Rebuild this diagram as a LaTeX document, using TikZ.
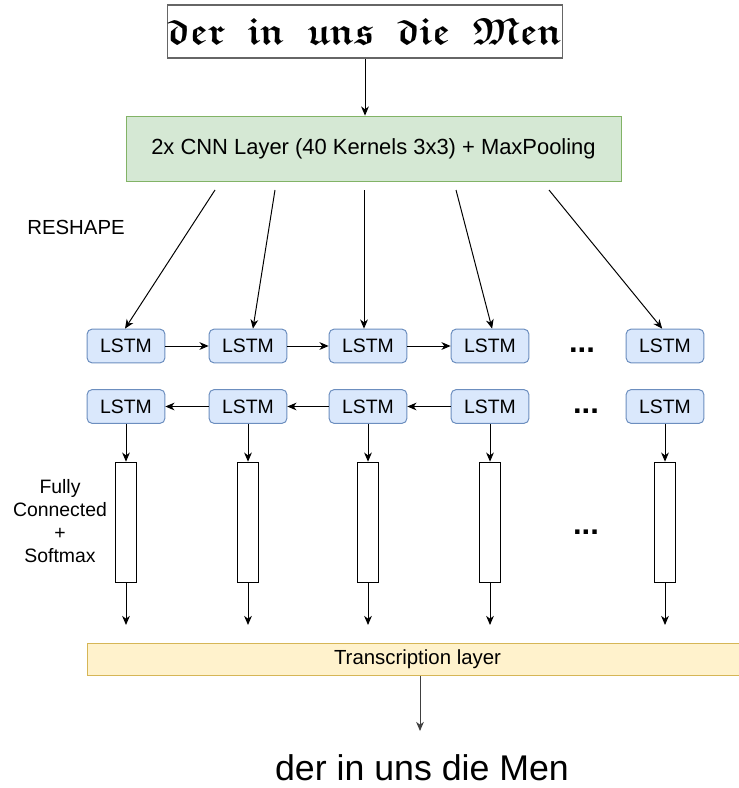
\documentclass[tikz,border=0pt]{standalone}
\usepackage{amssymb}
\usepackage{bm}
\usepackage{fontspec}
\setmainfont{Liberation Sans}
\usetikzlibrary{arrows.meta}

\definecolor{cnnfill}{HTML}{D5E8D4}
\definecolor{cnnline}{HTML}{82B366}
\definecolor{lstmfill}{HTML}{DAE8FC}
\definecolor{lstmline}{HTML}{6C8EBF}
\definecolor{trfill}{HTML}{FFF2CC}
\definecolor{trline}{HTML}{D6B656}

\newcommand{\frakword}[1]{$\bm{\mathfrak{#1}}$}

\tikzstyle{lstm}=[rectangle,rounded corners=3.5pt,draw=lstmline,fill=lstmfill,line width=0.7pt,minimum width=55.3pt,minimum height=24pt,inner sep=0,font=\fontsize{13.8}{15}\selectfont]
\tikzstyle{fc}=[rectangle,draw=black,fill=white,line width=0.7pt,minimum width=15.6pt,minimum height=85.8pt,inner sep=0]
\tikzset{arc/.style={-{Stealth[length=6.5pt,width=5.5pt,inset=2pt]},line width=0.7pt}}
\tikzset{dots/.style={anchor=base,inner sep=0,font=\fontsize{22}{22}\selectfont\bfseries}}

\begin{document}
\begin{tikzpicture}[x=0.025cm,y=-0.025cm]
\useasboundingbox (0,0) rectangle (738,788);

% input line image
\node[draw=gray!80!black,line width=1.2pt,fill=white,minimum width=276pt,minimum height=37.6pt,inner sep=0] (img) at (365,31.5) {\fontsize{27}{30}\selectfont\frakword{der}\hspace{16pt}\frakword{in}\hspace{16pt}\frakword{uns}\hspace{16pt}\frakword{die}\hspace{16pt}\frakword{Men}};

\node[rectangle,draw=cnnline,fill=cnnfill,line width=0.7pt,minimum width=352pt,minimum height=46.8pt,inner sep=0,font=\fontsize{15.6}{17}\selectfont] (cnn) at (373.5,149) {2x CNN Layer (40 Kernels 3x3) + MaxPooling};
\draw[arc] (img.south) to (img.south |- cnn.north);

\node[anchor=west,inner sep=0,font=\fontsize{14.5}{16}\selectfont] (reshape) at (27,227) {RESHAPE};

% forward lstms
\node[lstm] (f1) at (126,346) {LSTM};
\node[lstm] (f2) at (248,346) {LSTM};
\node[lstm] (f3) at (368,346) {LSTM};
\node[lstm] (f4) at (490,346) {LSTM};
\node[lstm] (f5) at (665,346) {LSTM};
\node[dots] (fd) at (582,352) {...};

% backward lstms
\node[lstm] (b1) at (126,406.5) {LSTM};
\node[lstm] (b2) at (248,406.5) {LSTM};
\node[lstm] (b3) at (368,406.5) {LSTM};
\node[lstm] (b4) at (490,406.5) {LSTM};
\node[lstm] (b5) at (665,406.5) {LSTM};
\node[dots] (bd) at (586,413) {...};

\coordinate (c1) at (215,190);
\coordinate (c2) at (275,190);
\coordinate (c3) at (364,190);
\coordinate (c4) at (456,190);
\coordinate (c5) at (549,190);
\draw[arc] (c1) to ([xshift=-0.7pt]f1.north);
\draw[arc] (c2) to ([xshift=3.5pt]f2.north);
\draw[arc] (c3) to (c3 |- f3.north);
\draw[arc] (c4) to ([xshift=1.5pt]f4.north);
\draw[arc] (c5) to ([xshift=-2pt]f5.north);

\draw[arc] (f1) to (f2);
\draw[arc] (f2) to (f3);
\draw[arc] (f3) to (f4);
\draw[arc] (b2) to (b1);
\draw[arc] (b3) to (b2);
\draw[arc] (b4) to (b3);

% fully connected
\node[fc] (s1) at (126,522.5) {};
\node[fc] (s2) at (248,522.5) {};
\node[fc] (s3) at (368,522.5) {};
\node[fc] (s4) at (490,522.5) {};
\node[fc] (s5) at (665,522.5) {};
\node[dots] (sd) at (586,534) {...};
\node[align=center,inner sep=0,font=\fontsize{13.8}{16.3}\selectfont] (fclabel) at (60,521) {Fully\\Connected\\+\\Softmax};

\draw[arc] (b1) to (s1);
\draw[arc] (b2) to (s2);
\draw[arc] (b3) to (s3);
\draw[arc] (b4) to (s4);
\draw[arc] (b5) to (s5);

\coordinate (o1) at (126,625);
\coordinate (o2) at (248,625);
\coordinate (o3) at (368,625);
\coordinate (o4) at (490,625);
\coordinate (o5) at (665,625);
\draw[arc] (s1) to (o1);
\draw[arc] (s2) to (o2);
\draw[arc] (s3) to (o3);
\draw[arc] (s4) to (o4);
\draw[arc] (s5) to (o5);

\node[rectangle,draw=trline,fill=trfill,line width=0.7pt,minimum width=470pt,minimum height=23.4pt,inner sep=0,font=\fontsize{14.5}{16}\selectfont] (trans) at (417.5,659.5) {Transcription layer};
\node[anchor=base,inner sep=0,font=\fontsize{25.4}{28}\selectfont] (out) at (422,780) {der in uns die Men};
\coordinate (outtop) at (420,731);
\draw[arc,black!75] (trans.south -| outtop) to (outtop);

\end{tikzpicture}
\end{document}
